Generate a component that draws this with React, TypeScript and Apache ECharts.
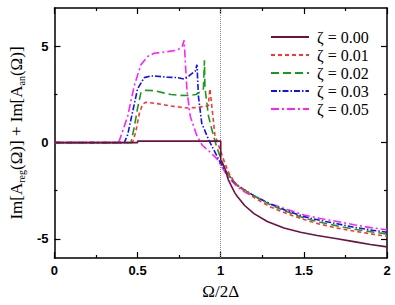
import React, { useEffect, useRef } from "react";
import * as echarts from "echarts";

const seriesNames = ["ζ = 0.00", "ζ = 0.01", "ζ = 0.02", "ζ = 0.03", "ζ = 0.05"];

const x000 = [0, 0.5, 0.5, 1.0, 1.0, 1.025, 1.045, 1.084, 1.1, 1.144, 1.2, 1.28, 1.38, 1.48, 1.58, 1.7, 1.8, 1.9, 2.0];
const y000 = [0, 0, 0.08, 0.08, -0.9, -1.33, -1.92, -2.6, -2.8, -3.27, -3.69, -4.1, -4.44, -4.66, -4.83, -5.0, -5.15, -5.3, -5.42];

const x001 = [0, 0.47, 0.49, 0.51, 0.53, 0.55, 0.6, 0.65, 0.7, 0.75, 0.8, 0.85, 0.9, 0.925, 0.935, 0.95, 0.965, 0.995, 1.025, 1.05, 1.075, 1.1, 1.135, 1.2, 1.3, 1.4, 1.5, 1.6, 1.7, 1.8, 1.9, 2.0];
const y001 = [0, 0, 0.6, 1.5, 2.0, 2.1, 2.05, 1.98, 1.9, 1.85, 1.8, 1.82, 1.88, 1.92, 2.8, 1.6, 0.4, -0.33, -1.08, -1.6, -1.95, -2.25, -2.45, -2.85, -3.35, -3.7, -4.0, -4.25, -4.44, -4.6, -4.74, -4.87];

const x002 = [0, 0.46, 0.48, 0.5, 0.52, 0.55, 0.6, 0.65, 0.7, 0.75, 0.8, 0.85, 0.876, 0.896, 0.902, 0.905, 0.926, 0.955, 0.975, 1.0, 1.03, 1.05, 1.075, 1.1, 1.135, 1.2, 1.3, 1.4, 1.5, 1.6, 1.7, 1.8, 1.9, 2.0];
const y002 = [0, 0, 0.8, 1.8, 2.6, 2.72, 2.7, 2.6, 2.5, 2.46, 2.45, 2.5, 2.63, 2.8, 4.28, 2.87, 1.4, 0.4, -0.2, -0.82, -1.5, -1.7, -2.0, -2.22, -2.42, -2.76, -3.24, -3.6, -3.92, -4.14, -4.33, -4.5, -4.63, -4.75];

const x003 = [0, 0.42, 0.44, 0.47, 0.5, 0.54, 0.58, 0.62, 0.68, 0.74, 0.78, 0.8, 0.82, 0.847, 0.857, 0.866, 0.886, 0.93, 0.96, 0.995, 1.025, 1.05, 1.075, 1.1, 1.135, 1.2, 1.3, 1.4, 1.5, 1.6, 1.7, 1.8, 1.9, 2.0];
const y003 = [0, 0, 0.4, 1.6, 2.8, 3.38, 3.47, 3.45, 3.4, 3.38, 3.3, 3.4, 3.55, 3.72, 4.05, 2.4, 1.0, 0.1, -0.4, -1.0, -1.42, -1.7, -2.0, -2.2, -2.42, -2.76, -3.2, -3.55, -3.85, -4.05, -4.22, -4.4, -4.54, -4.66];

const x005 = [0, 0.38, 0.39, 0.44, 0.48, 0.52, 0.56, 0.6, 0.68, 0.738, 0.768, 0.78, 0.787, 0.797, 0.817, 0.857, 0.89, 0.925, 0.975, 1.0, 1.03, 1.05, 1.1, 1.15, 1.2, 1.3, 1.4, 1.5, 1.6, 1.7, 1.8, 1.9, 2.0];
const y005 = [0, 0, 0.1, 1.36, 2.96, 4.05, 4.48, 4.65, 4.73, 4.81, 4.98, 5.32, 4.2, 2.7, 1.36, 0.35, -0.15, -0.4, -0.82, -1.16, -1.6, -1.85, -2.3, -2.6, -2.8, -3.18, -3.48, -3.76, -3.95, -4.1, -4.27, -4.42, -4.53];

const colors = ["#6e1040", "#ff3333", "#1a9a1a", "#1010ff", "#ff20ff"];
const dashes: any[] = ["solid", [4, 3], [8, 4], [6, 2, 1.5, 2], [8, 3, 2, 3]];
const xsAll = [x000, x001, x002, x003, x005];
const ysAll = [y000, y001, y002, y003, y005];

const xTickValues = [0, 0.5, 1, 1.5, 2];
const yMajor = [-5, 0, 5];
const yMinor = [-2.5, 2.5];

export default function App() {
  const ref = useRef<HTMLDivElement>(null);
  useEffect(() => {
    if (!ref.current) return;
    const chart = echarts.init(ref.current, undefined, { renderer: "svg" });
    const axisLineStyle = { color: "#000", width: 1.5 };
    const tickFont = { fontFamily: "Liberation Sans", fontWeight: "bold" as const, fontSize: 13, color: "#000" };
    const mkX = (pos: "bottom" | "top", labels: boolean, name?: string) => ({
      type: "value",
      position: pos,
      min: 0,
      max: 2,
      interval: 0.5,
      name,
      nameLocation: "middle",
      nameGap: 25,
      nameTextStyle: { fontFamily: "Liberation Serif", fontSize: 17, color: "#000" },
      axisLine: { show: true, onZero: false, lineStyle: axisLineStyle },
      axisTick: { show: true, inside: true, length: 6, lineStyle: { color: "#000", width: 1.2 } },
      minorTick: { show: true, splitNumber: 2, length: 3, lineStyle: { color: "#000", width: 1.2 } },
      axisLabel: {
        show: labels,
        margin: 6,
        ...tickFont,
        formatter: (v: number) => (xTickValues.includes(v) ? String(v) : ""),
      },
      splitLine: { show: false },
      minorSplitLine: { show: false },
    });
    const mkY = (pos: "left" | "right", values: number[], len: number, line: boolean, labels: boolean, name?: string) => ({
      type: "value",
      position: pos,
      min: -6,
      max: 7,
      name,
      nameLocation: "middle",
      nameGap: 28,
      nameTextStyle: {
        fontFamily: "Liberation Serif",
        fontSize: 17,
        color: "#000",
        rich: {
          s: { fontFamily: "Liberation Serif", fontSize: 10, color: "#000", padding: [9, 0, 0, 0] },
        },
      },
      axisLine: { show: line, onZero: false, lineStyle: axisLineStyle },
      axisTick: { show: true, inside: true, length: len, customValues: values, lineStyle: { color: "#000", width: 1.2 } },
      axisLabel: { show: labels, customValues: values, margin: 6, ...tickFont },
      splitLine: { show: false },
    });

    const series = seriesNames.map((name, i) => ({
      name,
      type: "line",
      xAxisIndex: 0,
      yAxisIndex: 0,
      symbol: "none",
      showSymbol: false,
      data: xsAll[i].map((x, k) => [x, ysAll[i][k]]),
      lineStyle: { color: colors[i], width: 1.6, type: dashes[i] },
      itemStyle: { color: colors[i] },
      z: 10 - i,
      ...(i === 0
        ? {
            markLine: {
              silent: true,
              symbol: "none",
              label: { show: false },
              lineStyle: { type: "dotted", color: "#888", width: 1 },
              data: [{ xAxis: 1 }],
            },
          }
        : {}),
    }));

    chart.setOption({
      animation: false,
      grid: { left: 49, right: 8, top: 8, bottom: 40, containLabel: false },
      legend: {
        orient: "vertical",
        left: 265,
        top: 24,
        itemWidth: 38,
        itemHeight: 10,
        itemGap: 2,
        itemStyle: { opacity: 0 },
        textStyle: { fontFamily: "Liberation Serif", fontSize: 16, color: "#000", padding: [0, 0, 0, 3] },
        data: seriesNames,
      },
      xAxis: [mkX("bottom", true, "Ω/2Δ"), mkX("top", false)],
      yAxis: [
        mkY("left", yMajor, 6, true, true, "Im[A{s|reg}(Ω)] + Im[A{s|an}(Ω)]"),
        mkY("left", yMinor, 3, false, false),
        mkY("right", yMajor, 6, true, false),
        mkY("right", yMinor, 3, false, false),
      ],
      series,
    });
    return () => chart.dispose();
  }, []);
  return <div ref={ref} style={{ width: 395, height: 305, position: "absolute", left: 0, top: 0 }} />;
}
